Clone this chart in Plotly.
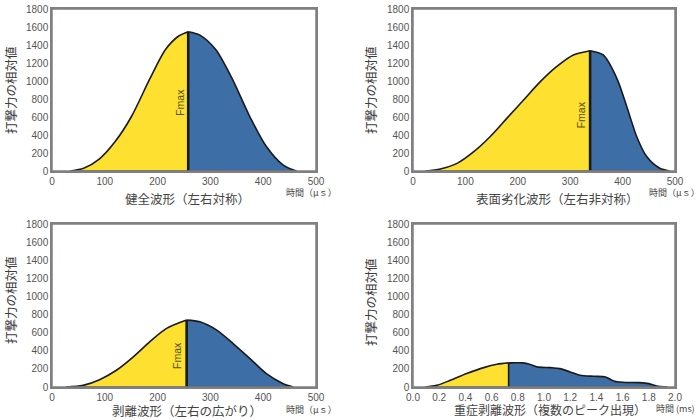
import plotly.graph_objects as go

# panel 1: 健全波形 (time in µs, relative force)
p1_x = [35, 60, 90, 120, 150, 185, 215, 240, 258, 280, 310, 340, 375, 405, 438, 463]
p1_y = [0, 30, 135, 330, 600, 1020, 1350, 1500, 1548, 1510, 1350, 1040, 600, 280, 65, 0]
p1_peak = 258

# panel 2: 表面劣化波形
p2_x = [24, 52, 84, 116, 147, 179, 211, 243, 274, 306, 338, 363, 389, 408, 427, 446, 471, 490]
p2_y = [0, 22, 85, 215, 381, 585, 789, 993, 1159, 1289, 1337, 1289, 1030, 715, 381, 160, 30, 0]
p2_peak = 338

# panel 3: 剥離波形
p3_x = [27, 59, 90, 122, 154, 185, 217, 255, 280, 312, 343, 375, 406, 438, 457]
p3_y = [0, 18, 81, 185, 333, 499, 647, 739, 720, 628, 480, 314, 148, 37, 0]
p3_peak = 255

# panel 4: 重症剥離波形 (time in ms)
p4_x = [0.094, 0.18, 0.285, 0.41, 0.54, 0.64, 0.73, 0.84, 0.89, 0.945, 1.05, 1.12,
        1.2, 1.275, 1.38, 1.47, 1.53, 1.6, 1.73, 1.8, 1.86, 1.94]
p4_y = [0, 18, 74, 148, 214, 251, 266, 266, 251, 222, 214, 203,
        166, 129, 118, 111, 67, 52, 48, 37, 11, 0]
p4_peak = 0.73

titles = ["健全波形（左右対称）", "表面劣化波形（左右非対称）",
          "剥離波形（左右の広がり）", "重症剥離波形（複数のピーク出現）"]
unit_labels = ["時間（μｓ）", "時間（μｓ）", "時間（μｓ）", "時間 (ms)"]
y_title = "打撃力の相対値"
y_ticks = [0, 200, 400, 600, 800, 1000, 1200, 1400, 1600, 1800]
x_ticks_us = [0, 100, 200, 300, 400, 500]
x_ticks_ms = [0, 0.2, 0.4, 0.6, 0.8, 1.0, 1.2, 1.4, 1.6, 1.8, 2.0]

YELLOW = "#FDE030"
BLUE = "#3D6FA6"
CJK = "Noto Sans CJK JP"

W, H = 700, 420


def fx(px):
    return px / W


def fy(py):
    return 1 - py / H


panels = [
    dict(x=p1_x, y=p1_y, peak=p1_peak, fmax=760, box=(52, 316, 9, 171)),
    dict(x=p2_x, y=p2_y, peak=p2_peak, fmax=620, box=(413, 675, 9, 171)),
    dict(x=p3_x, y=p3_y, peak=p3_peak, fmax=350, box=(52, 316, 224, 387)),
    dict(x=p4_x, y=p4_y, peak=p4_peak, fmax=None, box=(413, 675, 224, 387)),
]

fig = go.Figure()
annotations = []
shapes = []
layout = {}

for i, p in enumerate(panels):
    n = "" if i == 0 else str(i + 1)
    xa, ya = "x" + n, "y" + n
    left = [(a, b) for a, b in zip(p["x"], p["y"]) if a <= p["peak"]]
    right = [(a, b) for a, b in zip(p["x"], p["y"]) if a >= p["peak"]]
    for part, col in [(left, YELLOW), (right, BLUE)]:
        fig.add_trace(go.Scatter(
            x=[a for a, _ in part], y=[b for _, b in part], mode="lines",
            line=dict(color="#1a1a1a", width=1.6, shape="spline", smoothing=0.8),
            fill="tozeroy", fillcolor=col, xaxis=xa, yaxis=ya, showlegend=False))
    peak_y = p["y"][p["x"].index(p["peak"])]
    fig.add_trace(go.Scatter(
        x=[p["peak"], p["peak"]], y=[0, peak_y], mode="lines",
        line=dict(color="#1a1a1a", width=2.6 if i < 3 else 1.6),
        xaxis=xa, yaxis=ya, showlegend=False))
    # baseline
    fig.add_trace(go.Scatter(
        x=[p["x"][0], p["x"][-1]], y=[0, 0], mode="lines",
        line=dict(color="#1a1a1a", width=1.2), xaxis=xa, yaxis=ya, showlegend=False))

    if i < 3:
        xr = [0, 500]
        xt = dict(tickvals=x_ticks_us)
    else:
        xr = [0, 2.0]
        xt = dict(tickvals=x_ticks_ms, tickformat=".1f")
    x0, x1, y0, y1 = p["box"]
    axis_common = dict(showline=True, mirror=True, linecolor="#808080", linewidth=1.5,
                       showgrid=False, zeroline=False, ticks="", automargin=False,
                       ticklabeloverflow="allow",
                       tickfont=dict(family="Liberation Sans", size=10, color="#555555"))
    layout["xaxis" + n] = dict(domain=[fx(x0), fx(x1)], range=xr, anchor=ya, **xt, **axis_common)
    layout["yaxis" + n] = dict(domain=[fy(y1), fy(y0)], range=[0, 1800], anchor=xa,
                               tickvals=y_ticks, **axis_common)

    # plot frame in paper coordinates
    shapes.append(dict(type="rect", xref="paper", yref="paper",
                       x0=fx(x0), x1=fx(x1), y0=fy(y1), y1=fy(y0),
                       line=dict(color="#808080", width=1.5), layer="above"))

    if p["fmax"] is not None:
        annotations.append(dict(
            x=p["peak"], y=p["fmax"], xref=xa, yref=ya, text="Fmax", textangle=-90,
            xanchor="right", yanchor="middle", xshift=-1, showarrow=False,
            font=dict(family="Liberation Sans", size=10.5, color="#5a5020")))

# titles, units and y titles placed by window pixel
title_pos = [(187, 198), (557, 198), (187, 410), (550, 409)]
unit_pos = [(311, 193), (674, 193), (311, 409), (675, 408)]
ytitle_pos = [(10, 90), (370, 90), (10, 300), (370, 302)]
for i in range(4):
    tx, ty = title_pos[i]
    annotations.append(dict(x=fx(tx), y=fy(ty), xref="paper", yref="paper", text=titles[i],
                            xanchor="center", yanchor="middle", showarrow=False,
                            font=dict(family=CJK, size=12.5 if i < 3 else 12, color="#444444")))
    ux, uy = unit_pos[i]
    annotations.append(dict(x=fx(ux), y=fy(uy), xref="paper", yref="paper", text=unit_labels[i],
                            xanchor="center", yanchor="middle", showarrow=False,
                            font=dict(family=CJK, size=9, color="#444444")))
    yx, yy = ytitle_pos[i]
    annotations.append(dict(x=fx(yx), y=fy(yy), xref="paper", yref="paper", text=y_title,
                            xanchor="center", yanchor="middle", textangle=-90, showarrow=False,
                            font=dict(family=CJK, size=12.5, color="#3c3c3c")))

fig.update_layout(
    template="none",
    width=W, height=H, margin=dict(l=0, r=0, t=0, b=0, autoexpand=False),
    paper_bgcolor="white", plot_bgcolor="white",
    annotations=annotations, shapes=shapes, **layout)

# drop the default 8px body margin so the figure sits at the window corner
fig.write_html("out.html", config={"displayModeBar": False},
               post_script="document.body.style.margin = '0';")
